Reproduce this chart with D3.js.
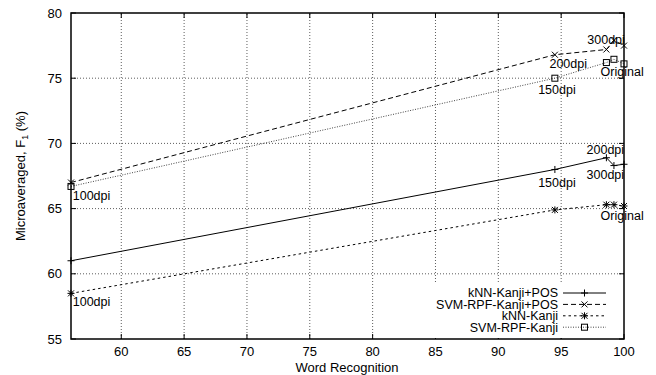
<!DOCTYPE html>
<html>
  <head>
    <title>Word recognition vs F1</title>
    <script src="https://cdn.jsdelivr.net/npm/d3@7/dist/d3.min.js"></script>
    <style>
      body { margin: 0; background: #fff; }
      text { font-family: "Liberation Sans", Arial, Helvetica, sans-serif; fill: #000; }
    </style>
  </head>

  <body>
    <script>
      // Opløsninger og word recognition (x) - fælles for alle serier
      const resolutions = ["100dpi", "150dpi", "200dpi", "300dpi", "Original"];
      const wordRecognition = [56.0, 94.5, 98.6, 99.2, 100.0];

      // F1-værdier pr. serie, samme rækkefølge som resolutions
      const seriesNames = ["kNN-Kanji+POS", "SVM-RPF-Kanji+POS", "kNN-Kanji", "SVM-RPF-Kanji"];
      const knnKanjiPos = [61.0, 68.0, 68.9, 68.3, 68.4];
      const svmKanjiPos = [67.0, 76.8, 77.2, 77.9, 77.5];
      const knnKanji = [58.5, 64.9, 65.3, 65.3, 65.2];
      const svmKanji = [66.7, 75.0, 76.2, 76.45, 76.1];

      // Punkt-labels (tekst, x, y i data-koordinater)
      const labelTexts = ["100dpi", "150dpi", "200dpi", "300dpi", "Original",
                          "100dpi", "150dpi", "200dpi", "300dpi", "Original"];
      const labelX = [56.14, 93.17, 94.07, 97.08, 98.14, 56.14, 93.17, 97.02, 97.02, 98.14];
      const labelY = [66.04, 74.1, 76.14, 78.0, 75.55, 57.84, 67.0, 69.57, 67.58, 64.5];

      const xTicks = [60, 65, 70, 75, 80, 85, 90, 95, 100];
      const yTicks = [55, 60, 65, 70, 75, 80];

      const w = 656;
      const h = 375;
      const margin = { left: 71, right: 32, top: 13, bottom: 36 };

      const svg = d3.select("body").append("svg").attr("width", w).attr("height", h);

      const x = d3.scaleLinear().domain([56, 100]).range([margin.left, w - margin.right]);
      const y = d3.scaleLinear().domain([55, 80]).range([h - margin.bottom, margin.top]);

      const x0 = x.range()[0], x1 = x.range()[1];
      const y0 = y.range()[0], y1 = y.range()[1];

      // Grid
      svg.append("g").selectAll("line").data(xTicks.filter(d => d < 100)).enter().append("line")
        .attr("x1", d => x(d)).attr("x2", d => x(d)).attr("y1", y0).attr("y2", y1)
        .attr("stroke", "#333").attr("stroke-width", 0.8).attr("stroke-dasharray", "1,2");
      svg.append("g").selectAll("line").data(yTicks.filter(d => d > 55 && d < 80)).enter().append("line")
        .attr("x1", x0).attr("x2", x1).attr("y1", d => y(d)).attr("y2", d => y(d))
        .attr("stroke", "#333").attr("stroke-width", 0.8).attr("stroke-dasharray", "1,2");

      // Ticks (inad, på alle fire sider)
      const tl = 5;
      xTicks.forEach(function (d) {
        svg.append("line").attr("x1", x(d)).attr("x2", x(d)).attr("y1", y0).attr("y2", y0 - tl).attr("stroke", "#000");
        svg.append("line").attr("x1", x(d)).attr("x2", x(d)).attr("y1", y1).attr("y2", y1 + tl).attr("stroke", "#000");
      });
      yTicks.forEach(function (d) {
        svg.append("line").attr("x1", x0).attr("x2", x0 + tl).attr("y1", y(d)).attr("y2", y(d)).attr("stroke", "#000");
        svg.append("line").attr("x1", x1).attr("x2", x1 - tl).attr("y1", y(d)).attr("y2", y(d)).attr("stroke", "#000");
      });

      // Tick labels
      svg.append("g").selectAll("text").data(xTicks).enter().append("text")
        .attr("x", d => x(d)).attr("y", y0 + 17).attr("text-anchor", "middle")
        .attr("font-size", "13px").text(d => d);
      svg.append("g").selectAll("text").data(yTicks).enter().append("text")
        .attr("x", x0 - 9).attr("y", d => y(d) + 4.5).attr("text-anchor", "end")
        .attr("font-size", "13px").text(d => d);

      // Akse-titler
      svg.append("text").attr("x", 347).attr("y", 372).attr("text-anchor", "middle")
        .attr("font-size", "13px").text("Word Recognition");
      const yl = svg.append("text").attr("transform", "translate(25,176) rotate(-90)")
        .attr("text-anchor", "middle").attr("font-size", "13px");
      yl.append("tspan").text("Microaveraged, F");
      yl.append("tspan").attr("font-size", "9px").attr("dy", 3).text("1");
      yl.append("tspan").attr("dy", -3).text(" (%)");

      // Serier
      const allSeries = [knnKanjiPos, svmKanjiPos, knnKanji, svmKanji];
      const dashes = [null, "5,3", "2.5,3", "1,1.5"];
      const colors = ["#000", "#000", "#000", "#444"];
      const markers = ["plus", "cross", "star", "square"];

      const line = d3.line().x(d => x(d[0])).y(d => y(d[1]));

      function drawMarker(g, type, cx, cy) {
        const s = 3.5;
        if (type == "plus" || type == "star") {
          g.append("line").attr("x1", cx - s).attr("x2", cx + s).attr("y1", cy).attr("y2", cy).attr("stroke", "#000");
          g.append("line").attr("x1", cx).attr("x2", cx).attr("y1", cy - s).attr("y2", cy + s).attr("stroke", "#000");
        }
        if (type == "cross" || type == "star") {
          const c = 3;
          g.append("line").attr("x1", cx - c).attr("x2", cx + c).attr("y1", cy - c).attr("y2", cy + c).attr("stroke", "#000");
          g.append("line").attr("x1", cx - c).attr("x2", cx + c).attr("y1", cy + c).attr("y2", cy - c).attr("stroke", "#000");
        }
        if (type == "square") {
          g.append("rect").attr("x", cx - 3).attr("y", cy - 3).attr("width", 6).attr("height", 6)
            .attr("fill", "none").attr("stroke", "#000");
        }
      }

      allSeries.forEach(function (vals, i) {
        const pts = vals.map((v, j) => [wordRecognition[j], v]);
        svg.append("path").attr("d", line(pts)).attr("fill", "none")
          .attr("stroke", colors[i]).attr("stroke-width", 1)
          .attr("stroke-dasharray", dashes[i]);
        const g = svg.append("g");
        pts.forEach(p => drawMarker(g, markers[i], x(p[0]), y(p[1])));
      });

      // Legend (opak baggrund)
      svg.append("rect").attr("x", 430).attr("y", 284).attr("width", x1 - 431).attr("height", y0 - 285)
        .attr("fill", "#fff");
      seriesNames.forEach(function (name, i) {
        const ly = 293 + i * 11.4;
        svg.append("text").attr("x", 558).attr("y", ly + 4.3).attr("text-anchor", "end")
          .attr("font-size", "12.5px").text(name);
        svg.append("line").attr("x1", 563).attr("x2", 606).attr("y1", ly).attr("y2", ly)
          .attr("stroke", colors[i]).attr("stroke-dasharray", dashes[i]);
        drawMarker(svg, markers[i], 584.5, ly);
      });

      // Ramme
      svg.append("rect").attr("x", x0).attr("y", y1).attr("width", x1 - x0).attr("height", y0 - y1)
        .attr("fill", "none").attr("stroke", "#000").attr("stroke-width", 1.5);

      // Punkt-labels (oven på rammen)
      svg.append("g").selectAll("text").data(labelTexts).enter().append("text")
        .attr("x", (d, i) => x(labelX[i])).attr("y", (d, i) => y(labelY[i]) + 4.5)
        .attr("font-size", "12.5px").text(d => d);
    </script>
  </body>
</html>
